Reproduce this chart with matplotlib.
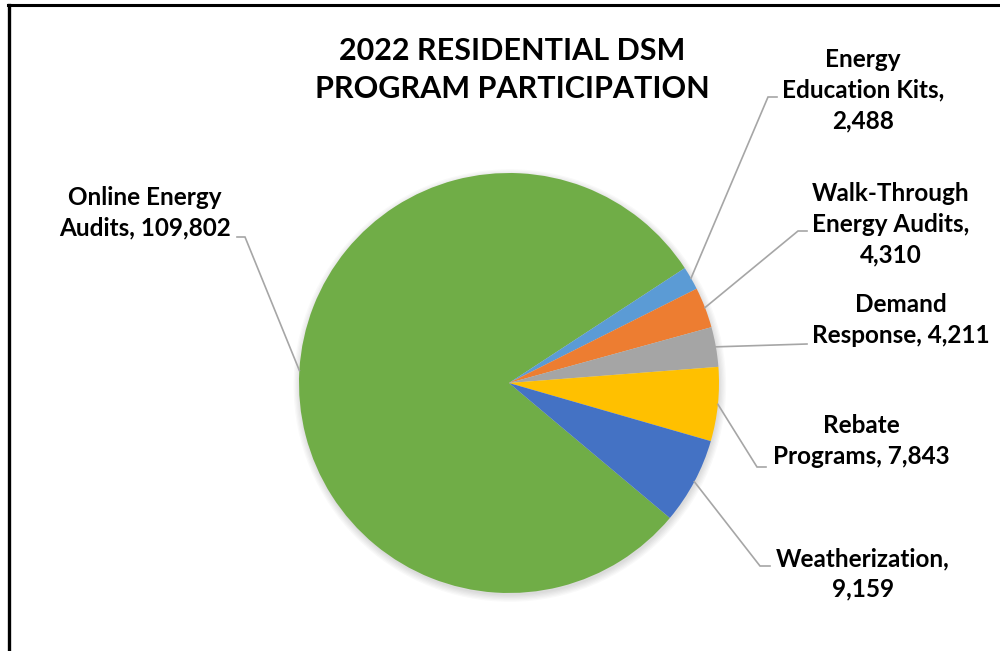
import matplotlib
matplotlib.use("Agg")
import matplotlib.pyplot as plt
from matplotlib.lines import Line2D
import numpy as np

# ---- data ----
categories = ["Online Energy Audits", "Energy Education Kits", "Walk-Through Energy Audits",
              "Demand Response", "Rebate Programs", "Weatherization"]
values = [109802, 2488, 4310, 4211, 7843, 9159]
label_texts = ["Online Energy\nAudits, 109,802",
               "Energy\nEducation Kits,\n2,488",
               "Walk-Through\nEnergy Audits,\n4,310",
               "Demand\nResponse, 4,211",
               "Rebate\nPrograms, 7,843",
               "Weatherization,\n9,159"]
colors = ["#70AD47", "#5B9BD5", "#ED7D31", "#A5A5A5", "#FFC000", "#4472C4"]
title = "2022 RESIDENTIAL DSM\nPROGRAM PARTICIPATION"

# ---- layout (pixels) ----
W, H = 1000, 651
CX, CY, R = 509, 383, 210          # pie centre / radius in pixels (from top-left)
label_pos = [(145, 213), (863, 90), (891, 224), (901, 320), (861, 441), (863, 574)]
elbows = [((245, 237), (237, 237)),
          ((768, 97), (777, 97)),
          ((798, 231), (807, 231)),
          ((807, 344), (807, 344)),
          ((757, 467), (766, 467)),
          ((760, 566), (770, 566))]

def px(x, y):
    return ((x - CX) / R, (CY - y) / R)

FONT = ["Lato", "DejaVu Sans"]

fig = plt.figure(figsize=(W / 100, H / 100), dpi=100)
fig.patch.set_facecolor("white")
ax = fig.add_axes([0, 0, 1, 1])

# subtle shadow
for k in range(6):
    sh = plt.Circle((0.004, -0.012), 1.0 + 0.006 * k, color="black", alpha=0.025, lw=0, zorder=0)
    ax.add_patch(sh)

wedges, _ = ax.pie(values, colors=colors, startangle=-40, counterclock=False, radius=1,
                   wedgeprops=dict(linewidth=0))
for w in wedges:
    w.set_zorder(2)

ax.set_xlim(-CX / R, (W - CX) / R)
ax.set_ylim((CY - H) / R, CY / R)
ax.set_aspect("equal")
ax.axis("off")

for w, txt, lp, (e1, e2) in zip(wedges, label_texts, label_pos, elbows):
    ang = np.deg2rad((w.theta1 + w.theta2) / 2)
    sx, sy = np.cos(ang), np.sin(ang)
    ex1, ey1 = px(*e1)
    ex2, ey2 = px(*e2)
    ax.plot([sx, ex1, ex2], [sy, ey1, ey2], color="#A6A6A6", lw=1.2, zorder=3,
            solid_joinstyle="miter")
    lx, ly = px(*lp)
    ax.text(lx, ly, txt, ha="center", va="center", multialignment="center",
            fontsize=17.5, fontweight="bold", family=FONT, color="#000000",
            linespacing=1.4, zorder=4)

tx, ty = px(512, 70)
ax.text(tx, ty, title, ha="center", va="center", multialignment="center",
        fontsize=22, fontweight="bold", family=FONT, color="#000000", linespacing=1.41)

# partial chart border (top and left)
fig.add_artist(Line2D([8 / W, 1.0], [1 - 5 / H, 1 - 5 / H], color="black", lw=2.2,
                      transform=fig.transFigure))
fig.add_artist(Line2D([9 / W, 9 / W], [0, 1 - 5 / H], color="black", lw=2.4,
                      transform=fig.transFigure))

fig.savefig("out.png", dpi=100, facecolor="white")
